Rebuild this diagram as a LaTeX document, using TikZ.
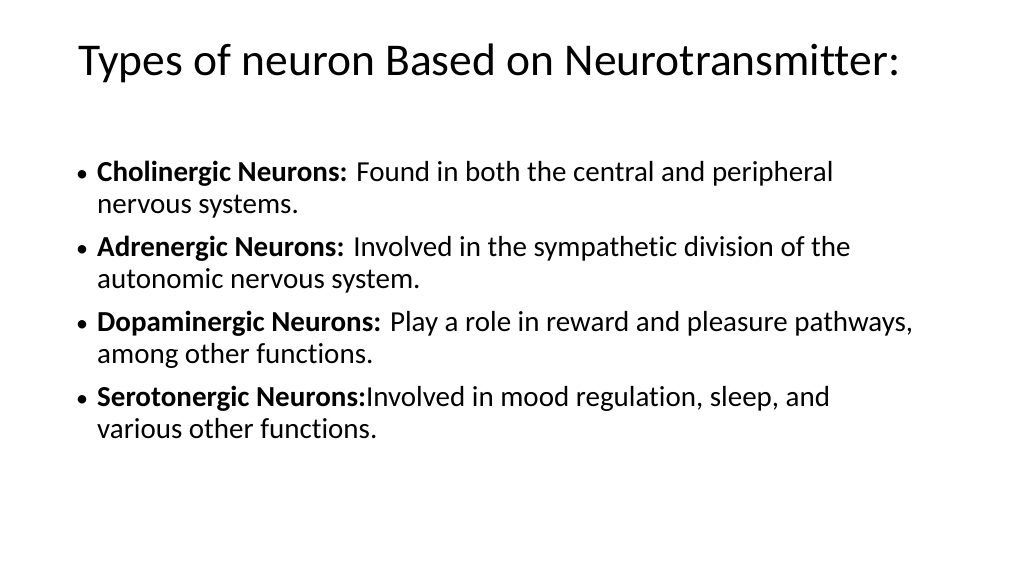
\documentclass[tikz,border=0pt]{standalone}
\usepackage{fontspec}
\setmainfont[Ligatures=NoCommon]{Carlito}
\begin{document}
\begin{tikzpicture}[x=1pt,y=-1pt,
  title/.style={anchor=base west,inner sep=0pt,font=\fontsize{45.5}{52}\selectfont},
  body/.style={anchor=base west,inner sep=0pt,font=\fontsize{29}{34}\selectfont},
  dot/.style={anchor=base west,inner sep=0pt,font=\fontsize{24}{28}\selectfont}]
\useasboundingbox[fill=white] (0,0) rectangle (1024,576);
\node[title] (t) at (78,75) {Types of neuron Based on Neurotransmitter:};
\foreach \y/\n in {181/b1,256/b2,331/b3,406/b4}{\node[dot] (\n) at (76,\y) {•};}
\node[body] (l1) at (97,181) {\textbf{Cholinergic Neurons:} Found in both the central and peripheral};
\node[body] (l2) at (97,213) {nervous systems.};
\node[body] (l3) at (97,256) {\textbf{Adrenergic Neurons:} Involved in the sympathetic division of the};
\node[body] (l4) at (97,288) {autonomic nervous system.};
\node[body] (l5) at (97,331) {\textbf{Dopaminergic Neurons:} Play a role in reward and pleasure pathways,};
\node[body] (l6) at (97,363) {among other functions.};
\node[body] (l7) at (97,406) {\textbf{Serotonergic Neurons:}Involved in mood regulation, sleep, and};
\node[body] (l8) at (97,438) {various other functions.};
\end{tikzpicture}
\end{document}
